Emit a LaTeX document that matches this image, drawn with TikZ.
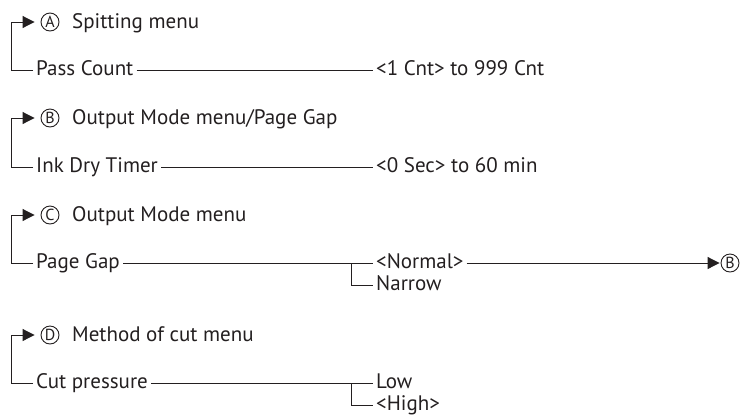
\documentclass[tikz,border=0pt]{standalone}
\usepackage{fontspec}
\setmainfont{PT Sans}
\usetikzlibrary{arrows.meta}
\definecolor{ink}{HTML}{231F20}
\tikzset{
  lbl/.style={anchor=mid west, inner xsep=3pt, inner ysep=1pt, font=\fontsize{21}{24}\selectfont, text=ink},
  circ/.style={draw=ink, circle, line width=0.9pt, inner sep=0pt, minimum size=18pt, font=\fontsize{16}{17}\selectfont, text=ink},
  conn/.style={draw=ink, line width=1pt},
  arr/.style={conn, -{Triangle[length=12pt,width=12pt]}, shorten >=6pt},
  arrb/.style={conn, -{Triangle[length=12pt,width=12pt]}, shorten >=1pt}
}
\begin{document}
\fontsize{21}{24}\selectfont
\begin{tikzpicture}[x=1pt,y=-1pt]
\useasboundingbox (0,0) rectangle (744,416);
% A
\node[circ] (ca) at (50,22) {A};
\node[lbl] (ta) at (69,23) {Spitting menu};
\node[lbl] (pc) at (33,70) {Pass Count};
\node[lbl] (pcv) at (373,70) {<1 Cnt> to 999 Cnt};
\draw[arr] (pc.mid west) -- ++(-22,0) |- (ca.west);
\draw[conn] (pc.mid east) -- (pcv.mid west);
% B
\node[circ] (cb) at (50,118) {B};
\node[lbl] (tb) at (69,119) {Output Mode menu/Page Gap};
\node[lbl] (idt) at (33,167) {Ink Dry Timer};
\node[lbl] (idtv) at (373,167) {<0 Sec> to 60 min};
\draw[arr] (idt.mid west) -- ++(-22,0) |- (cb.west);
\draw[conn] (idt.mid east) -- (idtv.mid west);
% C
\node[circ] (cc) at (50,215) {C};
\node[lbl] (tc) at (69,216) {Output Mode menu};
\node[lbl] (pg) at (33,263) {Page Gap};
\node[lbl] (nor) at (373,263) {<Normal>};
\node[lbl] (nar) at (373,285) {Narrow};
\node[circ] (cb2) at (730,263) {B};
\coordinate (brc) at (351,263);
\draw[arr] (pg.mid west) -- ++(-22,0) |- (cc.west);
\draw[conn] (pg.mid east) -- (nor.mid west);
\draw[conn] (brc) |- (nar.mid west);
\draw[arrb] (nor.mid east) -- (cb2.west);
% D
\node[circ] (cd) at (50,335) {D};
\node[lbl] (td) at (69,336) {Method of cut menu};
\node[lbl] (cp) at (33,383) {Cut pressure};
\node[lbl] (low) at (373,383) {Low};
\node[lbl] (high) at (373,405) {<High>};
\coordinate (brd) at (351,383);
\draw[arr] (cp.mid west) -- ++(-22,0) |- (cd.west);
\draw[conn] (cp.mid east) -- (low.mid west);
\draw[conn] (brd) |- (high.mid west);
\end{tikzpicture}
\end{document}
